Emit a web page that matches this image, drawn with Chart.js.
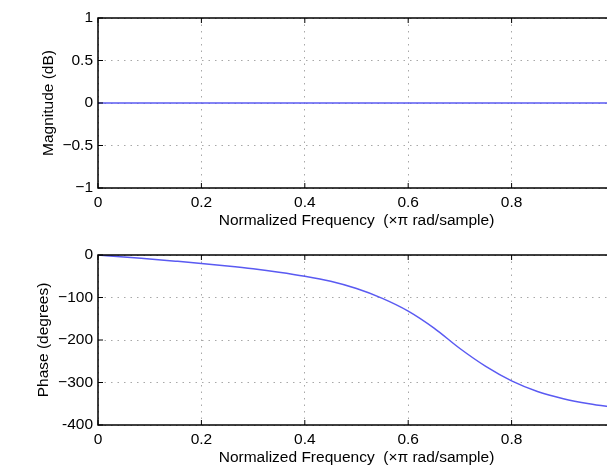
<!DOCTYPE html>
<html lang="en">
<head>
    <meta charset="UTF-8">
    <title>Allpass Filter Response</title>
    <script src="https://cdn.jsdelivr.net/npm/chart.js"></script>
    <style>
        html, body {
            margin: 0;
            padding: 0;
            background: #fff;
            overflow: hidden;
        }

        .plot {
            position: absolute;
            left: 0;
        }

        #magPlot { top: 0; }
        #phasePlot { top: 240px; }
    </style>
</head>
<body>
    <canvas id="magPlot" class="plot" width="640" height="240"></canvas>
    <canvas id="phasePlot" class="plot" width="640" height="228"></canvas>

    <script>
        // Data
        const freq = [0, 0.05, 0.1, 0.15, 0.2, 0.25, 0.3, 0.35, 0.4, 0.45, 0.5,
                      0.55, 0.6, 0.65, 0.7, 0.75, 0.8, 0.85, 0.9, 0.95, 1.0];
        const magnitude = [0, 0, 0, 0, 0, 0, 0, 0, 0, 0, 0,
                           0, 0, 0, 0, 0, 0, 0, 0, 0, 0];
        const phase = [0, -4.5, -9.5, -14.5, -19.8, -25.8, -32.5, -40.5, -50, -62, -79,
                       -102, -132, -172, -220, -262, -296, -321, -338, -350, -359];

        const freqTicks = [0, 0.2, 0.4, 0.6, 0.8, 1];
        const freqTickLabels = ['0', '0.2', '0.4', '0.6', '0.8', '1'];
        const magTicks = [-1, -0.5, 0, 0.5, 1];
        const magTickLabels = ['\u22121', '\u22120.5', '0', '0.5', '1'];
        const phaseTicks = [-400, -300, -200, -100, 0];
        const phaseTickLabels = ['-400', '\u2212300', '\u2212200', '\u2212100', '0'];

        const xTitle = 'Normalized Frequency  (\u00d7\u03c0 rad/sample)';
        const FONT = 'Liberation Sans, Arial, Helvetica, sans-serif';

        // MATLAB-like box with inward ticks
        const boxPlugin = {
            id: 'box',
            afterDatasetsDraw(chart) {
                const { ctx, chartArea: a, scales } = chart;
                ctx.save();
                ctx.strokeStyle = '#000';
                ctx.lineWidth = 1.5;
                ctx.strokeRect(a.left, a.top, a.right - a.left, a.bottom - a.top);
                ctx.lineWidth = 1;
                ctx.beginPath();
                scales.x.ticks.forEach(t => {
                    const px = scales.x.getPixelForValue(t.value);
                    ctx.moveTo(px, a.bottom); ctx.lineTo(px, a.bottom - 5);
                    ctx.moveTo(px, a.top); ctx.lineTo(px, a.top + 5);
                });
                scales.y.ticks.forEach(t => {
                    const py = scales.y.getPixelForValue(t.value);
                    ctx.moveTo(a.left, py); ctx.lineTo(a.left + 5, py);
                    ctx.moveTo(a.right, py); ctx.lineTo(a.right - 5, py);
                });
                ctx.stroke();
                ctx.restore();
            }
        };

        function makePlot(id, yValues, yTicks, yLabels, yTitle, opts) {
            const points = freq.map((f, i) => ({ x: f, y: yValues[i] }));
            return new Chart(document.getElementById(id), {
                type: 'line',
                data: {
                    datasets: [{
                        data: points,
                        borderColor: '#5a5af2',
                        borderWidth: 1.5,
                        pointRadius: 0,
                        cubicInterpolationMode: 'monotone',
                        fill: false
                    }]
                },
                options: {
                    responsive: false,
                    animation: false,
                    devicePixelRatio: 1,
                    layout: { padding: { left: 0, top: opts.top, right: 25, bottom: 0 } },
                    plugins: { legend: { display: false }, tooltip: { enabled: false } },
                    scales: {
                        x: {
                            type: 'linear',
                            min: 0,
                            max: 1,
                            afterBuildTicks: s => { s.ticks = freqTicks.map(v => ({ value: v })); },
                            afterFit: s => { s.height = opts.xHeight; },
                            ticks: {
                                color: '#000',
                                font: { family: FONT, size: 15.5 },
                                padding: 5.5,
                                maxRotation: 0,
                                callback: (v, i) => freqTickLabels[i]
                            },
                            grid: { color: '#a8a8a8', drawTicks: false },
                            border: { display: false, dash: [1.5, 5] },
                            title: {
                                display: true,
                                text: xTitle,
                                color: '#000',
                                font: { family: FONT, size: 15.5 },
                                padding: { top: 0, bottom: opts.titlePad }
                            }
                        },
                        y: {
                            min: yTicks[0],
                            max: yTicks[yTicks.length - 1],
                            afterBuildTicks: s => { s.ticks = yTicks.map(v => ({ value: v })); },
                            afterFit: s => { s.width = 98; },
                            ticks: {
                                color: '#000',
                                font: { family: FONT, size: 15.5 },
                                padding: 5,
                                callback: (v, i) => yLabels[i]
                            },
                            grid: { color: '#a8a8a8', drawTicks: false },
                            border: { display: false, dash: [1.5, 5] },
                            title: {
                                display: true,
                                text: yTitle,
                                color: '#000',
                                font: { family: FONT, size: 15.5 },
                                padding: { top: opts.yTitlePad, bottom: 0 }
                            }
                        }
                    }
                },
                plugins: [boxPlugin]
            });
        }

        makePlot('magPlot', magnitude, magTicks, magTickLabels, 'Magnitude (dB)',
                 { top: 18, xHeight: 52, titlePad: 10, yTitlePad: 39 });
        makePlot('phasePlot', phase, phaseTicks, phaseTickLabels, 'Phase (degrees)',
                 { top: 15, xHeight: 43, titlePad: 1, yTitlePad: 34 });
    </script>
</body>
</html>
